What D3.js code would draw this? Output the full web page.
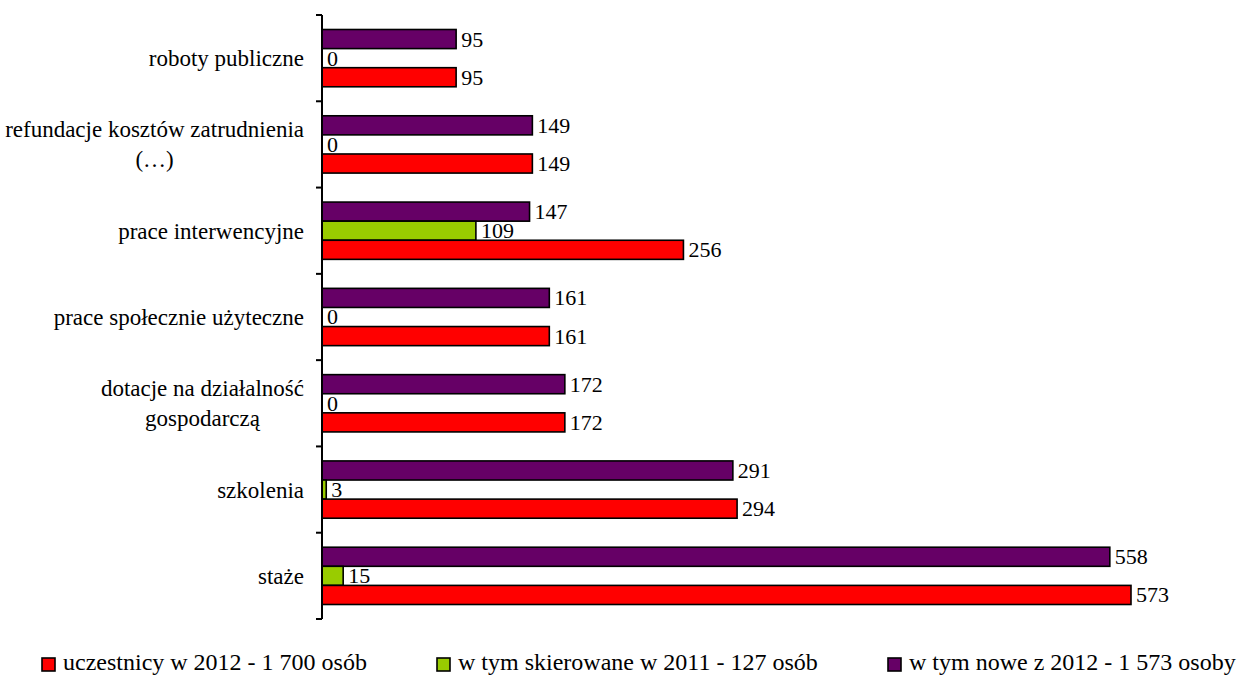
<!DOCTYPE html>
<html>
<head>
<meta charset="utf-8">
<script src="https://cdn.jsdelivr.net/npm/d3@7"></script>
<style>
 body{margin:0;background:#fff;}
 svg text{font-family:"Liberation Serif","Times New Roman",serif;fill:#000;}
</style>
</head>
<body>
<svg id="chart" width="1242" height="675"></svg>
<script>
// categories top to bottom, each label split in lines
const categories=["roboty publiczne","refundacje kosztów zatrudnienia (…)","prace interwencyjne",
 "prace społecznie użyteczne","dotacje na działalność gospodarczą","szkolenia","staże"];
const labelLines=[["roboty publiczne"],["refundacje kosztów zatrudnienia","(…)"],["prace interwencyjne"],
 ["prace społecznie użyteczne"],["dotacje na działalność","gospodarczą"],["szkolenia"],["staże"]];
const uczestnicy=[95,149,256,161,172,294,573];
const skierowane=[0,0,109,0,0,3,15];
const nowe=[95,149,147,161,172,291,558];
const seriesNames=["uczestnicy w 2012 - 1 700 osób","w tym skierowane w 2011 - 127 osób","w tym nowe z 2012 - 1 573 osoby"];
const seriesColors=["#ff0000","#99cc00","#660066"];

const series=[
 {name:seriesNames[0],color:seriesColors[0],values:uczestnicy},
 {name:seriesNames[1],color:seriesColors[1],values:skierowane},
 {name:seriesNames[2],color:seriesColors[2],values:nowe}];
// bars drawn top to bottom: nowe, skierowane, uczestnicy
const barOrder=[2,1,0];

const font='"Liberation Serif","Times New Roman",serif';
const svg=d3.select("#chart");
const plotLeft=322,plotTop=15,plotBottom=619;

const x=d3.scaleLinear().domain([0,d3.max(uczestnicy)]).range([plotLeft,1131]);
const y=d3.scaleBand().domain(categories).range([plotTop,plotBottom]);
const pad=14.5;
const y1=d3.scaleBand().domain(barOrder).range([pad,y.bandwidth()-pad]);

const groups=svg.append("g").selectAll("g").data(categories).join("g")
 .attr("transform",d=>`translate(0,${y(d)})`);

const cells=groups.selectAll("g.bar").data((c,i)=>barOrder.map(s=>({s,v:series[s].values[i]})))
 .join("g").attr("class","bar");

cells.append("rect")
 .attr("x",x(0))
 .attr("y",d=>y1(d.s))
 .attr("width",d=>x(d.v)-x(0))
 .attr("height",y1.bandwidth())
 .attr("fill",d=>series[d.s].color)
 .attr("stroke","#000")
 .attr("stroke-width",d=>d.v?1.6:0);

cells.append("text")
 .attr("x",d=>x(d.v)+5)
 .attr("y",d=>y1(d.s)+y1.bandwidth()/2+7.5)
 .attr("font-family",font)
 .attr("font-size",22)
 .text(d=>d.v);

// axis with ticks at band boundaries
const axis=svg.append("g").attr("stroke","#000").attr("stroke-width",2);
axis.append("line").attr("x1",plotLeft).attr("x2",plotLeft).attr("y1",plotTop).attr("y2",plotBottom);
axis.selectAll("line.tick").data(d3.range(categories.length+1)).join("line")
 .attr("class","tick")
 .attr("x1",plotLeft-6).attr("x2",plotLeft)
 .attr("y1",i=>plotTop+i*y.step()).attr("y2",i=>plotTop+i*y.step());

// category labels, block right-aligned, lines centered
const labelRight=304,lineH=30;
svg.append("g").selectAll("g").data(categories).join("g").each(function(c,i){
 const g=d3.select(this);
 const lines=labelLines[i];
 const texts=g.selectAll("text").data(lines).join("text")
  .attr("font-family",font)
  .attr("font-size",23)
  .attr("text-anchor","middle")
  .text(d=>d);
 const w=d3.max(texts.nodes(),n=>n.getComputedTextLength());
 const cy=y(c)+y.bandwidth()/2;
 texts.attr("x",labelRight-w/2)
  .attr("y",(d,j)=>cy+8+(j-(lines.length-1)/2)*lineH);
});

// legend
const legendX=[42,437,888];
const legend=svg.append("g").selectAll("g").data(series).join("g")
 .attr("transform",(d,i)=>`translate(${legendX[i]},658)`);
legend.append("rect").attr("width",13).attr("height",13)
 .attr("fill",d=>d.color).attr("stroke","#000").attr("stroke-width",1.6);
legend.append("text").attr("x",21).attr("y",12)
 .attr("font-family",font).attr("font-size",24).text(d=>d.name);
</script>
</body>
</html>
